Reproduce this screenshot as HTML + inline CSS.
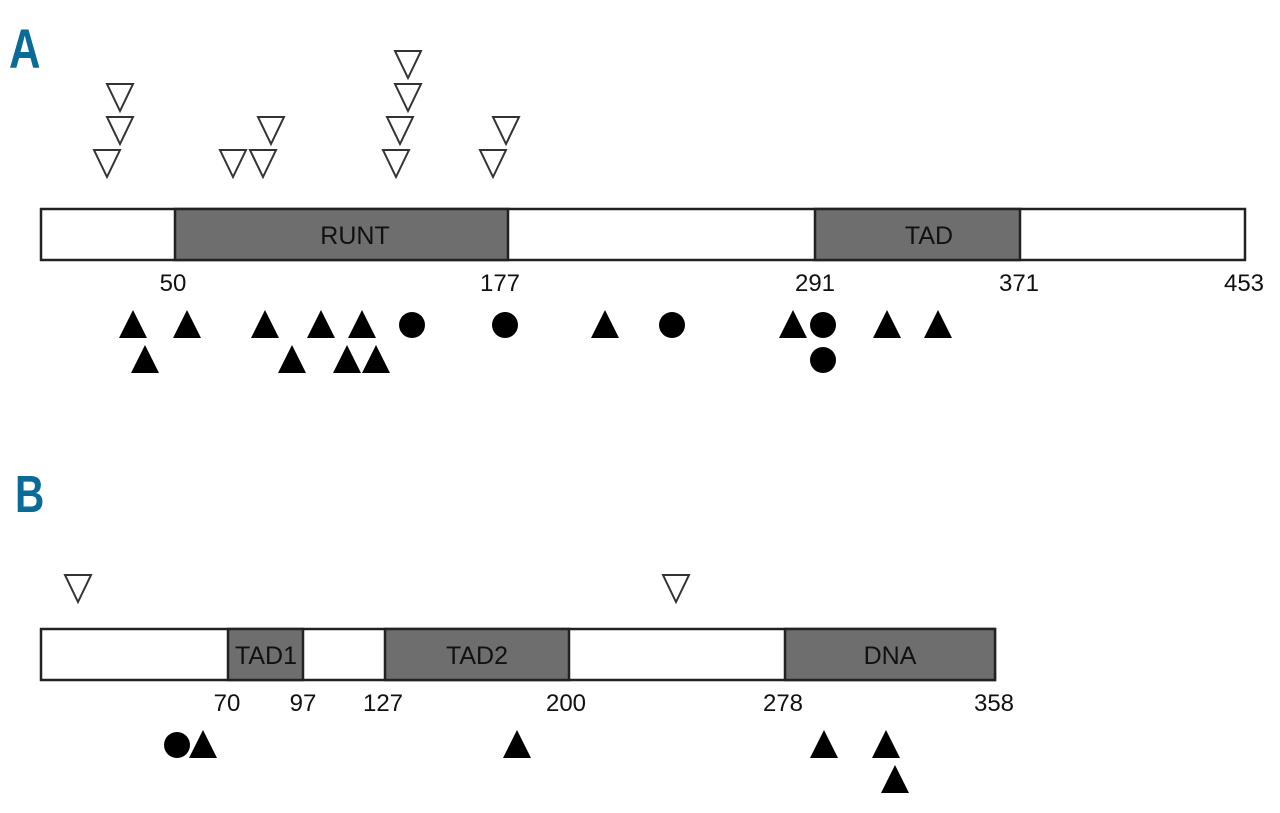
<!DOCTYPE html>
<html><head><meta charset="utf-8"><style>
html,body{margin:0;padding:0;background:#fff;}
svg{display:block;}
text{font-family:"Liberation Sans",sans-serif;}
</style></head><body>
<svg width="1280" height="813" viewBox="0 0 1280 813" xmlns="http://www.w3.org/2000/svg">
<defs>
<polygon id="o" points="-13,-13 13,-13 0,14" fill="#fff" stroke="#333" stroke-width="2"/>
<polygon id="t" points="0,-15 14,13 -14,13" fill="#000"/>
<circle id="c" r="13" fill="#000"/>
</defs>
<text x="0" y="0" font-size="56" font-weight="bold" fill="#0a6a98" transform="translate(9,68) scale(0.78,1)">A</text>
<text x="0" y="0" font-size="52" font-weight="bold" fill="#0a6a98" transform="translate(15,512) scale(0.78,1)">B</text>

<!-- Panel A -->
<g>
<use href="#o" x="120" y="97"/><use href="#o" x="120" y="130"/><use href="#o" x="107" y="163"/>
<use href="#o" x="233" y="163"/><use href="#o" x="263" y="163"/><use href="#o" x="271" y="130"/>
<use href="#o" x="396" y="163"/><use href="#o" x="400" y="130"/><use href="#o" x="408" y="97"/><use href="#o" x="408" y="64"/>
<use href="#o" x="493" y="163"/><use href="#o" x="506" y="130"/>
</g>
<rect x="41" y="209" width="1204" height="51" fill="#fff" stroke="#222" stroke-width="2.5"/>
<rect x="175" y="209" width="333" height="51" fill="#6e6e6e" stroke="#222" stroke-width="2.5"/>
<rect x="815" y="209" width="205" height="51" fill="#6e6e6e" stroke="#222" stroke-width="2.5"/>
<text x="355" y="244" font-size="25" text-anchor="middle" fill="#111">RUNT</text>
<text x="929" y="244" font-size="25" text-anchor="middle" fill="#111">TAD</text>
<g font-size="24" text-anchor="middle" fill="#111">
<text x="173" y="291">50</text><text x="500" y="291">177</text><text x="815" y="291">291</text><text x="1019" y="291">371</text><text x="1244" y="291">453</text>
</g>
<g>
<use href="#t" x="133" y="325"/><use href="#t" x="187" y="325"/><use href="#t" x="265" y="325"/><use href="#t" x="321" y="325"/><use href="#t" x="362" y="325"/>
<use href="#c" x="412" y="325"/><use href="#c" x="505" y="325"/><use href="#t" x="605" y="325"/><use href="#c" x="672" y="325"/>
<use href="#t" x="793" y="325"/><use href="#c" x="823" y="325"/><use href="#t" x="887" y="325"/><use href="#t" x="938" y="325"/>
<use href="#t" x="145" y="360"/><use href="#t" x="292" y="360"/><use href="#t" x="347" y="360"/><use href="#t" x="376" y="360"/><use href="#c" x="823" y="360"/>
</g>

<!-- Panel B -->
<use href="#o" x="78" y="588"/><use href="#o" x="676" y="588"/>
<rect x="41" y="629" width="954" height="51" fill="#fff" stroke="#222" stroke-width="2.5"/>
<rect x="228" y="629" width="75" height="51" fill="#6e6e6e" stroke="#222" stroke-width="2.5"/>
<rect x="385" y="629" width="184" height="51" fill="#6e6e6e" stroke="#222" stroke-width="2.5"/>
<rect x="785" y="629" width="210" height="51" fill="#6e6e6e" stroke="#222" stroke-width="2.5"/>
<text x="266" y="664" font-size="25" text-anchor="middle" fill="#111">TAD1</text>
<text x="477" y="664" font-size="25" text-anchor="middle" fill="#111">TAD2</text>
<text x="890" y="664" font-size="25" text-anchor="middle" fill="#111">DNA</text>
<g font-size="24" text-anchor="middle" fill="#111">
<text x="227" y="711">70</text><text x="303" y="711">97</text><text x="383" y="711">127</text><text x="566" y="711">200</text><text x="783" y="711">278</text><text x="994" y="711">358</text>
</g>
<use href="#c" x="177" y="745"/><use href="#t" x="203" y="745"/><use href="#t" x="517" y="745"/>
<use href="#t" x="824" y="745"/><use href="#t" x="886" y="745"/><use href="#t" x="895" y="780"/>
</svg>
</body></html>
